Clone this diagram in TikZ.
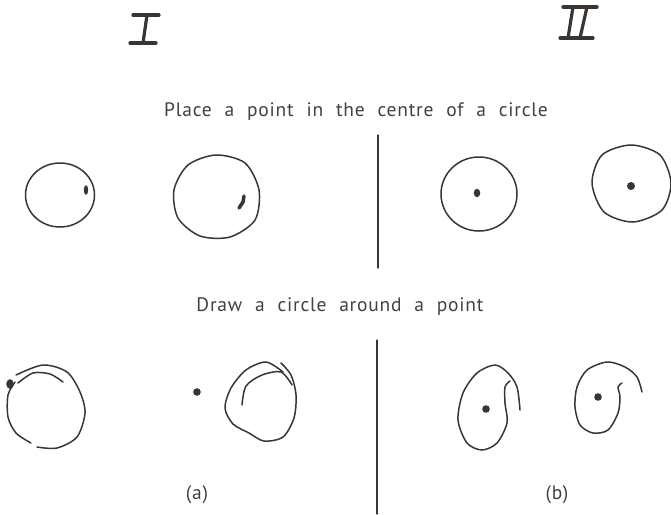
\documentclass[tikz,border=0pt]{standalone}
\usepackage{fontspec}
\setmainfont{PT Sans}
\definecolor{ink}{HTML}{3A3530}
\definecolor{txt}{HTML}{45403B}
\begin{document}
\begin{tikzpicture}[x=1pt,y=-1pt,
  pen/.style={draw=ink,line width=1.5pt,line cap=round,line join=round},
  roman/.style={draw=ink,line width=3.2pt,line cap=round},
  dotmark/.style={fill=ink},
  label/.style={text=txt,font=\fontsize{19.5}{23}\selectfont\addfontfeature{LetterSpace=4},inner sep=0pt}]
\useasboundingbox (0,0) rectangle (671,514);
% Roman numerals
\draw[roman] (133,15) -- (159,15);
\draw[roman] (147,15) -- (143,43);
\draw[roman] (130,43) -- (156,43);
\draw[roman] (563,7) -- (597,7);
\draw[roman] (573,7) -- (568,38);
\draw[roman] (587,7) -- (580,38);
\draw[roman] (560,38) -- (593,38);
% headings
\node[label] (t1) at (356,112) {Place\hspace{0.35em} a\hspace{0.35em} point\hspace{0.35em} in\hspace{0.35em} the\hspace{0.35em} centre\hspace{0.35em} of\hspace{0.35em} a\hspace{0.35em} circle};
\node[label] (t2) at (340,307) {Draw\hspace{0.35em} a\hspace{0.35em} circle\hspace{0.35em} around\hspace{0.35em} a\hspace{0.35em} point};
\node[label] (la) at (197,495) {(a)};
\node[label] (lb) at (557,495) {(b)};
% dividers
\draw[pen,line width=1.2pt] (378,135) -- (378,268);
\draw[pen,line width=1.2pt] (377,340) -- (377,514);
% top-left
\draw[pen] (60,195) ellipse [x radius=34.5, y radius=32];
\fill[dotmark] (86,190) ellipse [x radius=2.2, y radius=4.8];
\draw[pen] plot[smooth cycle] coordinates {(216,155) (245,163) (259,190) (255,220) (230,237) (200,236) (178,218) (174,190) (188,165)};
\draw[pen,line width=3.5pt] (244,196) -- (243,202) -- (239,208);
% top-right
\draw[pen] (479,194) ellipse [x radius=38, y radius=37];
\fill[dotmark] (477,193) ellipse [x radius=3.3, y radius=4.2];
\draw[pen] plot[smooth cycle] coordinates {(631,145) (660,155) (671,183) (662,210) (633,222) (604,212) (592,183) (602,155)};
\fill[dotmark] (631,186) circle (4);
% bottom-left 1
\draw[pen] plot[smooth] coordinates {(16,375) (43,365) (67,372) (80,392) (85,413) (77,437) (57,448) (37,447)};
\draw[pen] plot[smooth] coordinates {(15,382) (8,395) (8,417) (16,433) (31,443)};
\draw[pen] plot[smooth] coordinates {(18,383) (33,373) (50,374) (63,382)};
\fill[dotmark] (10,384) ellipse [x radius=3.8, y radius=4.8];
% bottom-left 2
\fill[dotmark] (197,392) circle (3.8);
\draw[pen] plot[smooth] coordinates {(283,372) (266,362) (246,370) (231,388) (225,408) (233,424) (249,433) (264,441) (283,437) (294,418) (296,395) (291,375) (281,363)};
\draw[pen] plot[smooth] coordinates {(242,405) (246,386) (262,375) (281,372) (292,385)};
% bottom-right 1
\draw[pen] plot[smooth] coordinates {(520,410) (517,387) (508,373) (495,365) (477,373) (463,393) (458,420) (467,443) (482,450) (497,443) (507,423) (505,403) (505,387) (510,381)};
\fill[dotmark] (486,409) circle (3.8);
% bottom-right 2
\draw[pen] plot[smooth] coordinates {(642,392) (637,377) (625,367) (607,362) (587,370) (577,387) (575,407) (580,425) (593,433) (608,430) (618,413) (620,397) (618,387) (622,383)};
\fill[dotmark] (598,397) circle (3.8);
\end{tikzpicture}
\end{document}
